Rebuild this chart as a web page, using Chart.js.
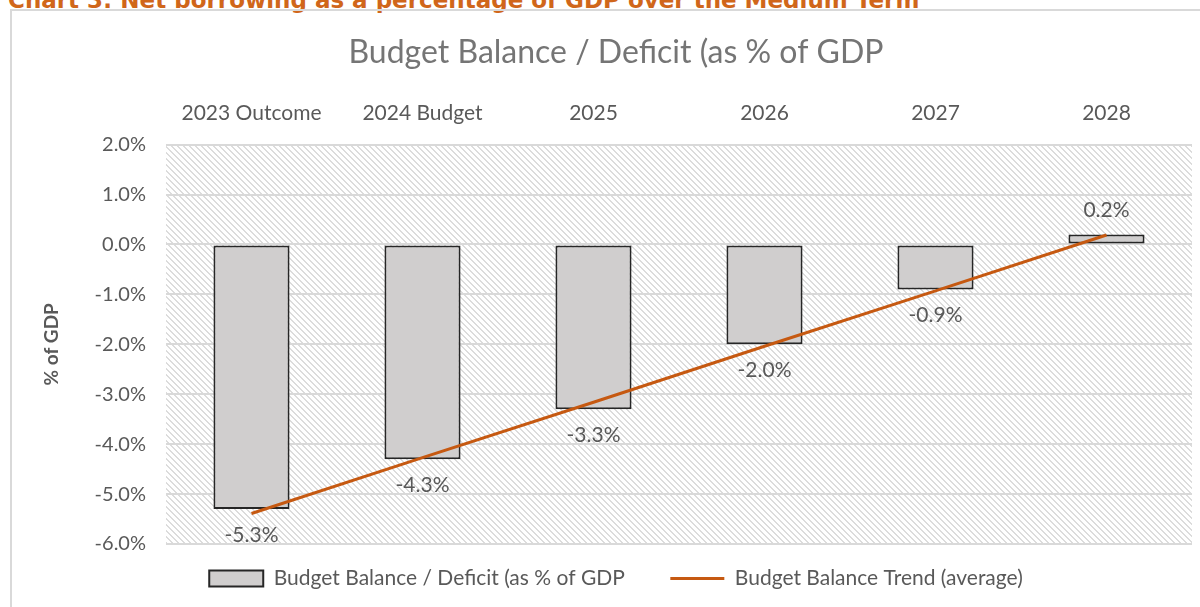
<!DOCTYPE html>
<html>
<head>
<meta charset="utf-8">
<script src="https://cdn.jsdelivr.net/npm/chart.js@4"></script>
<style>
  body { margin: 0; background: #fff; overflow: hidden; }
  #titulo {
    position: absolute; left: 8px; top: -13px;
    font: bold 23px "DejaVu Sans", sans-serif; color: #d0661a; white-space: nowrap;
  }
  #marco {
    position: absolute; left: 10px; top: 9px; width: 1200px; height: 620px;
    border: 2px solid #d9d9d9; box-sizing: border-box;
  }
  #canvasWrap { position: absolute; left: 0; top: 0; width: 1196px; height: 616px; }
</style>
</head>
<body>
<div id="titulo">Chart 3: Net borrowing as a percentage of GDP over the Medium Term</div>
<div id="marco"><div id="canvasWrap"><canvas id="balanceChart"></canvas></div></div>
<script>
const categorias = ['2023 Outcome', '2024 Budget', '2025', '2026', '2027', '2028'];
const balance = [-5.3, -4.3, -3.3, -2.0, -0.9, 0.2];
const tendencia = [-5.39, -4.27, -3.16, -2.04, -0.93, 0.19];
const yTicks = [2, 1, 0, -1, -2, -3, -4, -5, -6];

const gris = '#595959';
const fuente = 'Lato, "Open Sans", sans-serif';

// patron rayado del fondo
function crearRayado(ctx) {
  const c = document.createElement('canvas');
  c.width = 6; c.height = 6;
  const p = c.getContext('2d');
  p.fillStyle = '#fff';
  p.fillRect(0, 0, 6, 6);
  p.fillStyle = '#dcdcdc';
  for (let i = 0; i < 6; i++) {
    p.fillRect(i, i, 1, 1);
    p.fillRect((i + 1) % 6, i, 1, 1);
  }
  return ctx.createPattern(c, 'repeat');
}

const fondoRayado = {
  id: 'fondoRayado',
  beforeDraw(chart) {
    const {ctx, chartArea: a} = chart;
    ctx.save();
    ctx.fillStyle = crearRayado(ctx);
    ctx.fillRect(a.left, a.top, a.right - a.left, a.bottom - a.top);
    ctx.restore();
  }
};

const etiquetas = {
  id: 'etiquetas',
  afterDatasetsDraw(chart) {
    const ctx = chart.ctx;
    const meta = chart.getDatasetMeta(1);
    ctx.save();
    ctx.font = '21px ' + fuente;
    ctx.fillStyle = gris;
    ctx.textAlign = 'center';
    ctx.textBaseline = 'middle';
    meta.data.forEach((bar, i) => {
      const v = balance[i];
      const y = v < 0 ? bar.y + 26 : bar.y - 24;
      ctx.fillText(v.toFixed(1) + '%', bar.x, y);
    });
    ctx.restore();
  }
};

new Chart(document.getElementById('balanceChart'), {
  type: 'bar',
  data: {
    labels: categorias,
    datasets: [{
      type: 'line',
      label: 'Budget Balance Trend (average)',
      data: tendencia,
      borderColor: '#c65911',
      backgroundColor: '#c65911',
      borderWidth: 3,
      pointRadius: 0,
      pointStyle: 'line',
      tension: 0
    }, {
      label: 'Budget Balance / Deficit (as % of GDP',
      data: balance,
      backgroundColor: '#d0cece',
      borderColor: '#262626',
      borderWidth: 2,
      borderSkipped: false,
      pointStyle: 'rect',
      barPercentage: 1,
      categoryPercentage: 0.445
    }]
  },
  options: {
    responsive: true,
    maintainAspectRatio: false,
    animation: false,
    layout: { padding: { left: 28, right: 16, top: 0, bottom: 28 } },
    plugins: {
      title: {
        display: true,
        text: 'Budget Balance / Deficit (as % of GDP',
        color: '#757575',
        font: { family: fuente, size: 32, weight: 'normal' },
        padding: { top: 22, bottom: 18 }
      },
      legend: {
        position: 'bottom',
        labels: {
          usePointStyle: true,
          pointStyleWidth: 54,
          boxHeight: 16,
          color: gris,
          font: { family: fuente, size: 21 },
          padding: 24,
          sort: (a, b) => b.datasetIndex - a.datasetIndex,
          generateLabels: chart => {
            const base = Chart.defaults.plugins.legend.labels.generateLabels(chart);
            return base.map(l => l.datasetIndex === 1 ? {...l, text: l.text + '    '} : l);
          }
        }
      },
      tooltip: { enabled: false }
    },
    scales: {
      x: {
        position: 'top',
        grid: { display: false },
        border: { display: false },
        ticks: { color: gris, font: { family: fuente, size: 21 }, padding: 11 }
      },
      y: {
        min: -6,
        max: 2,
        afterFit: s => { s.width = 126; },
        afterBuildTicks: s => { s.ticks = yTicks.map(v => ({ value: v })); },
        grid: { color: '#d9d9d9', lineWidth: 2, drawTicks: false },
        border: { display: false },
        ticks: {
          color: gris,
          font: { family: fuente, size: 20 },
          padding: 20,
          callback: v => v.toFixed(1) + '%'
        },
        title: {
          display: true,
          text: '% of GDP',
          color: gris,
          font: { family: fuente, size: 19, weight: 'bold' },
          padding: { top: 0, bottom: 0 }
        }
      }
    }
  },
  plugins: [fondoRayado, etiquetas]
});
</script>
</body>
</html>
